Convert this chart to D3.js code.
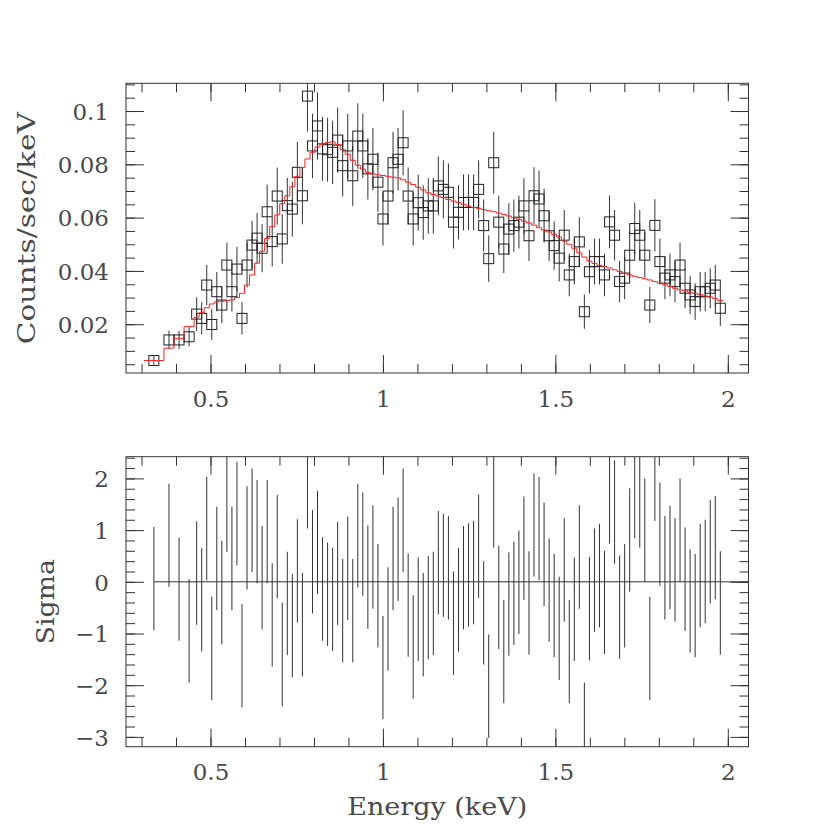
<!DOCTYPE html>
<html>
<head>
<meta charset="utf-8">
<script src="https://cdn.jsdelivr.net/npm/d3@7"></script>
<style>
  body { margin: 0; background: #fff; }
  text { font-family: "DejaVu Serif", serif; fill: #4a4a4a; }
</style>
</head>
<body>
<div id="chart"></div>
<script>
// channel grouping edges (keV)
const binEdges = [
  0.3066, 0.3650, 0.3942, 0.4234, 0.4526,
  0.4672, 0.4818, 0.4964, 0.5110, 0.5256, 0.5402, 0.5548, 0.5694, 0.5840, 0.5986,
  0.6132, 0.6278, 0.6424, 0.6570, 0.6716, 0.6862, 0.7008, 0.7154, 0.7300, 0.7446,
  0.7592, 0.7738, 0.7884, 0.8030, 0.8176, 0.8322, 0.8468, 0.8614, 0.8760, 0.8906,
  0.9052, 0.9198, 0.9344, 0.9490, 0.9636, 0.9782, 0.9928, 1.0074, 1.0220, 1.0366,
  1.0512, 1.0658, 1.0804, 1.0950, 1.1096, 1.1242, 1.1388, 1.1534, 1.1680, 1.1826,
  1.1972, 1.2118, 1.2264, 1.2410, 1.2556, 1.2702, 1.2848, 1.2994, 1.3140, 1.3286,
  1.3432, 1.3578, 1.3724, 1.3870, 1.4016, 1.4162, 1.4308, 1.4454, 1.4600, 1.4746,
  1.4892, 1.5038, 1.5184, 1.5330, 1.5476, 1.5622, 1.5768, 1.5914, 1.6060, 1.6206,
  1.6352, 1.6498, 1.6644, 1.6790, 1.6936, 1.7082, 1.7228, 1.7374, 1.7520, 1.7666,
  1.7812, 1.7958, 1.8104, 1.8250, 1.8396, 1.8542, 1.8688, 1.8834, 1.8980, 1.9126,
  1.9272, 1.9418, 1.9564, 1.9710, 1.9856
]
// counts/sec/keV
const rate = [
  0.0064, 0.0141, 0.0141, 0.0153, 0.0238, 0.0222, 0.0347, 0.0199, 0.0322, 0.0272,
  0.0422, 0.0322, 0.0407, 0.0222, 0.0422, 0.0497, 0.0523, 0.0485, 0.0622, 0.0510,
  0.0681, 0.0520, 0.0645, 0.0632, 0.0770, 0.0682, 0.1056, 0.0869, 0.0944, 0.0858,
  0.0855, 0.0845, 0.0891, 0.0795, 0.0869, 0.0757, 0.0906, 0.0869, 0.0783, 0.0819,
  0.0733, 0.0595, 0.0681, 0.0806, 0.0819, 0.0881, 0.0681, 0.0595, 0.0656, 0.0619,
  0.0644, 0.0644, 0.0719, 0.0706, 0.0695, 0.0583, 0.0620, 0.0657, 0.0657, 0.0657,
  0.0706, 0.0570, 0.0446, 0.0806, 0.0583, 0.0482, 0.0557, 0.0570, 0.0583, 0.0644,
  0.0532, 0.0682, 0.0670, 0.0607, 0.0532, 0.0495, 0.0448, 0.0534, 0.0385, 0.0435,
  0.0509, 0.0247, 0.0397, 0.0435, 0.0435, 0.0385, 0.0584, 0.0534, 0.0360, 0.0373,
  0.0459, 0.0559, 0.0534, 0.0459, 0.0272, 0.0571, 0.0435, 0.0373, 0.0385, 0.0360,
  0.0422, 0.0335, 0.0310, 0.0285, 0.0322, 0.0322, 0.0335, 0.0347, 0.0260
]
const rateErr = [
  0.0016, 0.0034, 0.0034, 0.0036, 0.0063, 0.0061, 0.0076, 0.0058, 0.0074, 0.0068,
  0.0084, 0.0074, 0.0083, 0.0061, 0.0084, 0.0091, 0.0094, 0.0090, 0.0102, 0.0093,
  0.0107, 0.0093, 0.0104, 0.0103, 0.0114, 0.0107, 0.0133, 0.0121, 0.0126, 0.0120,
  0.0120, 0.0119, 0.0122, 0.0116, 0.0121, 0.0113, 0.0123, 0.0121, 0.0115, 0.0117,
  0.0111, 0.0100, 0.0107, 0.0116, 0.0117, 0.0122, 0.0107, 0.0100, 0.0105, 0.0102,
  0.0104, 0.0104, 0.0110, 0.0109, 0.0108, 0.0099, 0.0102, 0.0105, 0.0105, 0.0105,
  0.0109, 0.0098, 0.0087, 0.0116, 0.0099, 0.0090, 0.0097, 0.0098, 0.0099, 0.0104,
  0.0095, 0.0107, 0.0106, 0.0101, 0.0095, 0.0091, 0.0087, 0.0095, 0.0080, 0.0086,
  0.0093, 0.0064, 0.0082, 0.0086, 0.0086, 0.0080, 0.0099, 0.0095, 0.0078, 0.0079,
  0.0088, 0.0097, 0.0095, 0.0088, 0.0068, 0.0098, 0.0086, 0.0079, 0.0080, 0.0078,
  0.0084, 0.0075, 0.0072, 0.0069, 0.0074, 0.0074, 0.0075, 0.0076, 0.0066
]
const model = [
  0.0064, 0.0110, 0.0147, 0.0191, 0.0226, 0.0243, 0.0262, 0.0276, 0.0284, 0.0286,
  0.0288, 0.0291, 0.0300, 0.0316, 0.0347, 0.0385, 0.0429, 0.0474, 0.0522, 0.0566,
  0.0610, 0.0652, 0.0682, 0.0716, 0.0755, 0.0788, 0.0820, 0.0845, 0.0865, 0.0876,
  0.0882, 0.0884, 0.0875, 0.0855, 0.0838, 0.0815, 0.0797, 0.0782, 0.0770, 0.0764,
  0.0761, 0.0758, 0.0755, 0.0752, 0.0749, 0.0742, 0.0733, 0.0724, 0.0714, 0.0704,
  0.0693, 0.0687, 0.0681, 0.0675, 0.0668, 0.0662, 0.0656, 0.0650, 0.0643, 0.0638,
  0.0635, 0.0630, 0.0626, 0.0622, 0.0617, 0.0612, 0.0606, 0.0600, 0.0594, 0.0587,
  0.0580, 0.0572, 0.0562, 0.0554, 0.0546, 0.0537, 0.0527, 0.0512, 0.0500, 0.0485,
  0.0468, 0.0452, 0.0437, 0.0428, 0.0421, 0.0416, 0.0411, 0.0404, 0.0398, 0.0391,
  0.0385, 0.0380, 0.0375, 0.0370, 0.0366, 0.0360, 0.0354, 0.0348, 0.0342, 0.0335,
  0.0329, 0.0325, 0.0320, 0.0316, 0.0311, 0.0306, 0.0302, 0.0296, 0.0289
]
// residuals in sigma
const sigma = [
  0.06, 0.90, -0.14, -0.95, 0.17, -0.35, 1.03, -1.29, 0.45, -0.21,
  1.58, 0.45, 1.32, -1.43, 0.85, 1.19, 0.97, 0.08, 0.97, -0.64,
  0.68, -1.41, -0.42, -0.85, 0.21, -0.83, 2.03, 0.39, 0.76, -0.14,
  -0.24, -0.34, 0.16, -0.56, 0.26, -0.56, 0.89, 0.73, 0.09, 0.48,
  -0.27, -1.66, -0.72, 0.45, 0.63, 1.19, -0.45, -1.26, -0.53, -0.83,
  -0.50, -0.42, 0.37, 0.32, 0.27, -0.80, -0.35, 0.08, 0.13, 0.18,
  0.69, -0.60, -2.02, 1.66, -0.30, -1.35, -0.43, -0.22, -0.01, 0.65,
  -0.41, 1.10, 1.03, 0.53, -0.16, -0.46, -0.90, 0.23, -1.35, -0.53,
  0.48, -2.95, -0.52, 0.03, 0.12, -0.40, 1.74, 1.35, -0.49, -0.27,
  0.81, 1.84, 1.66, 1.00, -1.29, 2.18, 0.92, 0.27, 0.47, 0.23,
  1.00, 0.05, -0.37, -0.46, 0.12, 0.20, 0.58, 0.66, -0.41
]
const energyTicks = [0.5, 1, 1.5, 2]
const rateTicks = [0.02, 0.04, 0.06, 0.08, 0.1]
const sigmaTicks = [-3, -2, -1, 0, 1, 2]

const width = 830
const height = 830
const frameX = [126, 748.5]
const panel1 = [83.3, 373] // top, bottom
const panel2 = [456.7, 746.7]
const ink = "#333"
const textInk = "#4a4a4a"

const x = d3.scaleLinear().domain([0.255, 2.06]).range(frameX)
const yRate = d3.scaleLinear().domain([0.0017, 0.1104]).range([panel1[1], panel1[0]])
const ySig = d3.scaleLinear().domain([-3.19, 2.42]).range([panel2[1], panel2[0]])

const I = d3.range(rate.length)
const mid = i => (binEdges[i] + binEdges[i + 1]) / 2

const svg = d3
  .create("svg")
  .attr("width", width)
  .attr("height", height)
  .attr("viewBox", [0, 0, width, height])

const inRange = (scale, step, start) =>
  d3.range(start, scale.domain()[1] + 1e-9, step)
    .filter(v => v >= scale.domain()[0] - 1e-9)
    .map(v => +v.toFixed(4))

const xMinor = inRange(x, 0.1, 0.3)

function frame(y, yr, yMajor, yMinor, yFmt, xLabelBase) {
  const g = svg.append("g").attr("color", ink)
  const [t, b] = yr
  const draw = (axis, tr) =>
    g.append("g").attr("transform", tr).call(axis.tickSizeOuter(0))
      .call(s => s.select(".domain").remove())

  // bottom with labels
  draw(d3.axisBottom(x).tickValues(energyTicks).tickSize(-18).tickFormat(d => d), `translate(0,${b})`)
    .selectAll(".tick text")
    .attr("y", xLabelBase - b)
    .attr("dy", 0)
    .attr("font-size", 23)
    .attr("fill", textInk)
  draw(d3.axisBottom(x).tickValues(xMinor).tickSize(-9).tickFormat(""), `translate(0,${b})`)
  draw(d3.axisTop(x).tickValues(energyTicks).tickSize(-18).tickFormat(""), `translate(0,${t})`)
  draw(d3.axisTop(x).tickValues(xMinor).tickSize(-9).tickFormat(""), `translate(0,${t})`)

  draw(d3.axisLeft(y).tickValues(yMajor).tickSize(-18).tickPadding(17).tickFormat(yFmt), `translate(${frameX[0]},0)`)
    .selectAll(".tick text")
    .attr("dy", "0.36em")
    .attr("font-size", 23)
    .attr("fill", textInk)
  draw(d3.axisLeft(y).tickValues(yMinor).tickSize(-9).tickFormat(""), `translate(${frameX[0]},0)`)
  draw(d3.axisRight(y).tickValues(yMajor).tickSize(-18).tickFormat(""), `translate(${frameX[1]},0)`)
  draw(d3.axisRight(y).tickValues(yMinor).tickSize(-9).tickFormat(""), `translate(${frameX[1]},0)`)

  g.append("rect")
    .attr("x", frameX[0])
    .attr("y", t)
    .attr("width", frameX[1] - frameX[0])
    .attr("height", b - t)
    .attr("fill", "none")
    .attr("stroke", ink)
}

frame(yRate, panel1, rateTicks, inRange(yRate, 0.005, 0.005), d => d, 406.5)
frame(ySig, panel2, sigmaTicks, inRange(ySig, 0.2, -3), d => (d < 0 ? "\u2212" + Math.abs(d) : d), 780)

const defs = svg.append("defs")
;[["clip1", panel1], ["clip2", panel2]].forEach(([id, p]) => {
  defs.append("clipPath").attr("id", id)
    .append("rect")
    .attr("x", frameX[0]).attr("y", p[0])
    .attr("width", frameX[1] - frameX[0]).attr("height", p[1] - p[0])
})

// upper panel: data + model
const upper = svg.append("g").attr("clip-path", "url(#clip1)")
upper.append("g")
  .attr("stroke", ink)
  .selectAll("line")
  .data(I)
  .join("line")
  .attr("x1", i => x(mid(i)))
  .attr("x2", i => x(mid(i)))
  .attr("y1", i => yRate(rate[i] - rateErr[i]))
  .attr("y2", i => yRate(rate[i] + rateErr[i]))

upper.append("g")
  .attr("fill", "none")
  .attr("stroke", "#222")
  .selectAll("rect")
  .data(I)
  .join("rect")
  .attr("x", i => x(mid(i)) - 5)
  .attr("y", i => yRate(rate[i]) - 5)
  .attr("width", 10)
  .attr("height", 10)

const steps = I.map(i => [binEdges[i], model[i]])
steps.push([binEdges[binEdges.length - 1], model[model.length - 1]])
upper.append("path")
  .datum(steps)
  .attr("fill", "none")
  .attr("stroke", "#ff2020")
  .attr("stroke-width", 1)
  .attr("d", d3.line().curve(d3.curveStepAfter).x(d => x(d[0])).y(d => yRate(d[1])))

// lower panel: residuals
const lower = svg.append("g").attr("clip-path", "url(#clip2)")
lower.append("line")
  .attr("x1", x(mid(0)))
  .attr("x2", frameX[1])
  .attr("y1", ySig(0))
  .attr("y2", ySig(0))
  .attr("stroke", ink)
lower.append("g")
  .attr("stroke", ink)
  .selectAll("line")
  .data(I)
  .join("line")
  .attr("x1", i => x(mid(i)))
  .attr("x2", i => x(mid(i)))
  .attr("y1", i => ySig(sigma[i] - 1))
  .attr("y2", i => ySig(sigma[i] + 1))

// axis titles
svg.append("text")
  .attr("transform", `translate(35,${(panel1[0] + panel1[1]) / 2}) rotate(-90)`)
  .attr("text-anchor", "middle")
  .attr("font-size", 25)
  .attr("textLength", 232)
  .attr("lengthAdjust", "spacingAndGlyphs")
  .text("Counts/sec/keV")
svg.append("text")
  .attr("transform", `translate(54,${(panel2[0] + panel2[1]) / 2}) rotate(-90)`)
  .attr("text-anchor", "middle")
  .attr("font-size", 25)
  .attr("textLength", 85)
  .attr("lengthAdjust", "spacingAndGlyphs")
  .text("Sigma")
svg.append("text")
  .attr("x", (frameX[0] + frameX[1]) / 2)
  .attr("y", 815)
  .attr("text-anchor", "middle")
  .attr("font-size", 25)
  .attr("textLength", 180)
  .attr("lengthAdjust", "spacingAndGlyphs")
  .text("Energy (keV)")

document.querySelector("#chart").append(svg.node())
</script>
</body>
</html>
